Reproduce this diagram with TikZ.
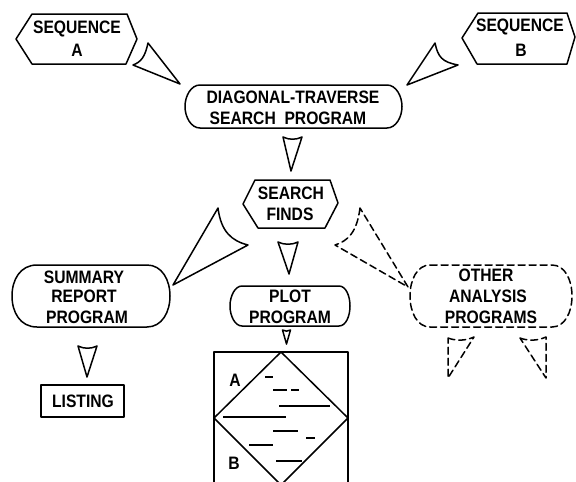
\documentclass[tikz,border=0pt]{standalone}
\usepackage{fontspec}
\setmainfont{Liberation Sans}[FakeStretch=0.87]
\begin{document}
\begin{tikzpicture}[x=1pt,y=-1pt,
  outl/.style={line width=1.5pt, line join=round, line cap=round},
  dsh/.style={outl, dash pattern=on 7pt off 4pt},
  lbl/.style={inner sep=0pt, font=\fontsize{18}{18}\selectfont\bfseries, anchor=center},
  seg/.style={line width=1.4pt}]
\useasboundingbox (0,0) rectangle (576,482);

% Sequence A
\draw[outl] (16,39) -- (32,14) -- (127,14) -- (137,39) -- (126,64) -- (32,64) -- cycle;
\node[lbl] (seqa1) at (77,29) {SEQUENCE};
\node[lbl] (seqa2) at (77,50) {A};

% Sequence B
\draw[outl] (462,38) -- (478,13) -- (567,13) -- (575,37) -- (567,64) -- (477,64) -- cycle;
\node[lbl] (seqb1) at (520,27) {SEQUENCE};
\node[lbl] (seqb2) at (521,50) {B};

% Arrows into diagonal-traverse
\draw[outl] (148,43) .. controls (145,57) and (141,62) .. (133,65) -- (180,84) -- cycle;
\draw[outl] (435,43) .. controls (438,57) and (442,62) .. (458,65) -- (407,85) -- cycle;

% Diagonal-traverse search program
\draw[outl] (200,85) -- (387,85) .. controls (396,85) and (402,96) .. (402,106.5)
  .. controls (402,117) and (396,128) .. (387,128) -- (200,128)
  .. controls (191,128) and (185,117) .. (185,106.5)
  .. controls (185,96) and (191,85) .. cycle;
\node[lbl] (dt1) at (293,97) {DIAGONAL-TRAVERSE};
\node[lbl] (dt2) at (288,118) {SEARCH\ \ PROGRAM};

% arrow to search finds
\draw[outl] (283,137) .. controls (289,140) and (296,140) .. (302,137) -- (291,171) -- cycle;

% Search finds
\draw[outl] (243,204) -- (255,180) -- (330,180) -- (338,203) -- (325,228) -- (258,228) -- cycle;
\node[lbl] (sf1) at (291,193) {SEARCH};
\node[lbl] (sf2) at (290,214) {FINDS};

% arrow to summary
\draw[outl] (218,208) .. controls (221,232) and (232,241) .. (248,245) -- (173,285) -- cycle;
% arrow to plot program
\draw[outl] (278,242) .. controls (284,245) and (292,245) .. (298,242) -- (289,274) -- cycle;
% dashed arrow to other
\draw[dsh] (360,208) .. controls (357,232) and (348,241) .. (335,245) -- (408,287) -- cycle;

% Summary report program
\draw[outl] (37,265) -- (147,265) .. controls (162,265) and (170,280) .. (170,296)
  .. controls (170,312) and (162,327) .. (147,327) -- (37,327)
  .. controls (20,327) and (12,312) .. (12,296)
  .. controls (12,280) and (20,265) .. cycle;
\node[lbl] (sr1) at (84,277) {SUMMARY};
\node[lbl] (sr2) at (84,296) {REPORT};
\node[lbl] (sr3) at (87,317) {PROGRAM};

% arrow to listing
\draw[outl] (78,346) .. controls (84,349) and (91,349) .. (97,346) -- (87,377) -- cycle;
% Listing
\draw[outl] (41,385) rectangle (124,417);
\node[lbl] (lst) at (83,401) {LISTING};

% Plot program
\draw[outl] (242,286) -- (339,286) .. controls (346,286) and (350,296) .. (350,306)
  .. controls (350,316) and (346,326) .. (339,326) -- (242,326)
  .. controls (235,326) and (230,316) .. (230,306)
  .. controls (230,296) and (235,286) .. cycle;
\node[lbl] (pp1) at (290,296) {PLOT};
\node[lbl] (pp2) at (290,317) {PROGRAM};

% arrow to plot
\draw[outl] (282.5,330) .. controls (285,331.5) and (288,331.5) .. (290.5,330) -- (286.5,344) -- cycle;

% Plot frame
\draw[outl] (214,490) -- (214,352) -- (348,352) -- (348,490);
\draw[outl] (281,352) -- (348,418) -- (281,485) -- (214,418) -- cycle;
\node[lbl] (pa) at (235,380) {A};
\node[lbl] (pb) at (234,463) {B};
\draw[seg] (265,377) -- (273,377);
\draw[seg] (273,390) -- (287,390);
\draw[seg] (291,390) -- (299,390);
\draw[seg] (279,406) -- (330,406);
\draw[seg] (223,417) -- (286,417);
\draw[seg] (273,431) -- (298,431);
\draw[seg] (306,438) -- (315,438);
\draw[seg] (249,445) -- (273,445);
\draw[seg] (276,461) -- (302,461);

% Other analysis programs
\draw[dsh] (430,265) -- (552,265) .. controls (565,265) and (572,280) .. (572,296)
  .. controls (572,312) and (565,327) .. (552,327) -- (430,327)
  .. controls (417,327) and (410,312) .. (410,296)
  .. controls (410,280) and (417,265) .. cycle;
\node[lbl] (oa1) at (486,275) {OTHER};
\node[lbl] (oa2) at (488,296) {ANALYSIS};
\node[lbl] (oa3) at (491,317) {PROGRAMS};

% dashed arrows below
\draw[dsh] (448,338) .. controls (456,341) and (465,341) .. (474,337) -- (448,378) -- cycle;
\draw[dsh] (520,338) .. controls (528,341) and (537,341) .. (546,337) -- (546,378) -- cycle;
\end{tikzpicture}
\end{document}
